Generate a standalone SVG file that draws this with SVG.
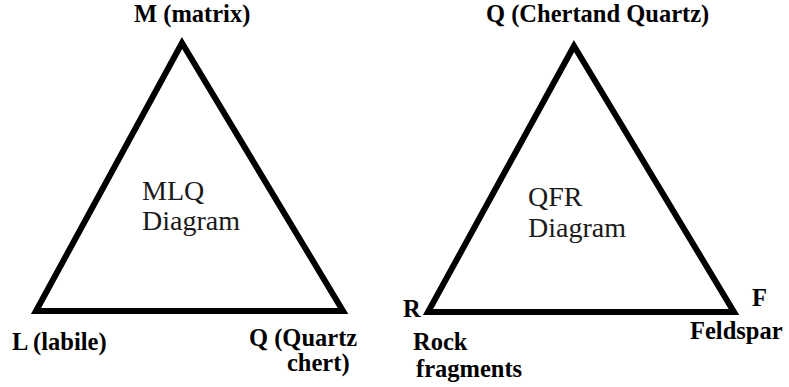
<svg xmlns="http://www.w3.org/2000/svg" width="789" height="387" viewBox="0 0 789 387">
<style>
.tri{fill:none;stroke:#000;stroke-width:6;stroke-linejoin:miter;stroke-miterlimit:10}
.lb{font-weight:bold;font-size:24.5px;fill:#000}
.in{font-size:28px;fill:#1a1a1a}
</style>
<rect width="789" height="387" fill="#fff"/>
<g id="connectors">
<polygon id="mlq-triangle" class="tri" points="182,43 36,311 343,311"/>
<polygon id="qfr-triangle" class="tri" points="574,46 428,312 734,312"/>
</g>
<g font-family="Liberation Serif, DejaVu Serif, serif">
<g id="mlq-title"><text class="in" x="142" y="200">MLQ</text><text class="in" x="142" y="230">Diagram</text></g>
<g id="node-M"><text class="lb" x="134" y="22">M (matrix)</text></g>
<g id="node-L"><text class="lb" x="12" y="350">L (labile)</text></g>
<g id="node-Q1"><text class="lb" x="249" y="346">Q (Quartz</text><text class="lb" x="287" y="371">chert)</text></g>
<g id="qfr-title"><text class="in" x="528" y="206">QFR</text><text class="in" x="528" y="237">Diagram</text></g>
<g id="node-Q2"><text class="lb" x="486" y="22">Q (Chertand Quartz)</text></g>
<g id="node-R"><text class="lb" x="403" y="317">R</text><text class="lb" x="413" y="350">Rock</text><text class="lb" x="416" y="377">fragments</text></g>
<g id="node-F"><text class="lb" x="752" y="306">F</text><text class="lb" x="690" y="339">Feldspar</text></g>
</g>
</svg>
